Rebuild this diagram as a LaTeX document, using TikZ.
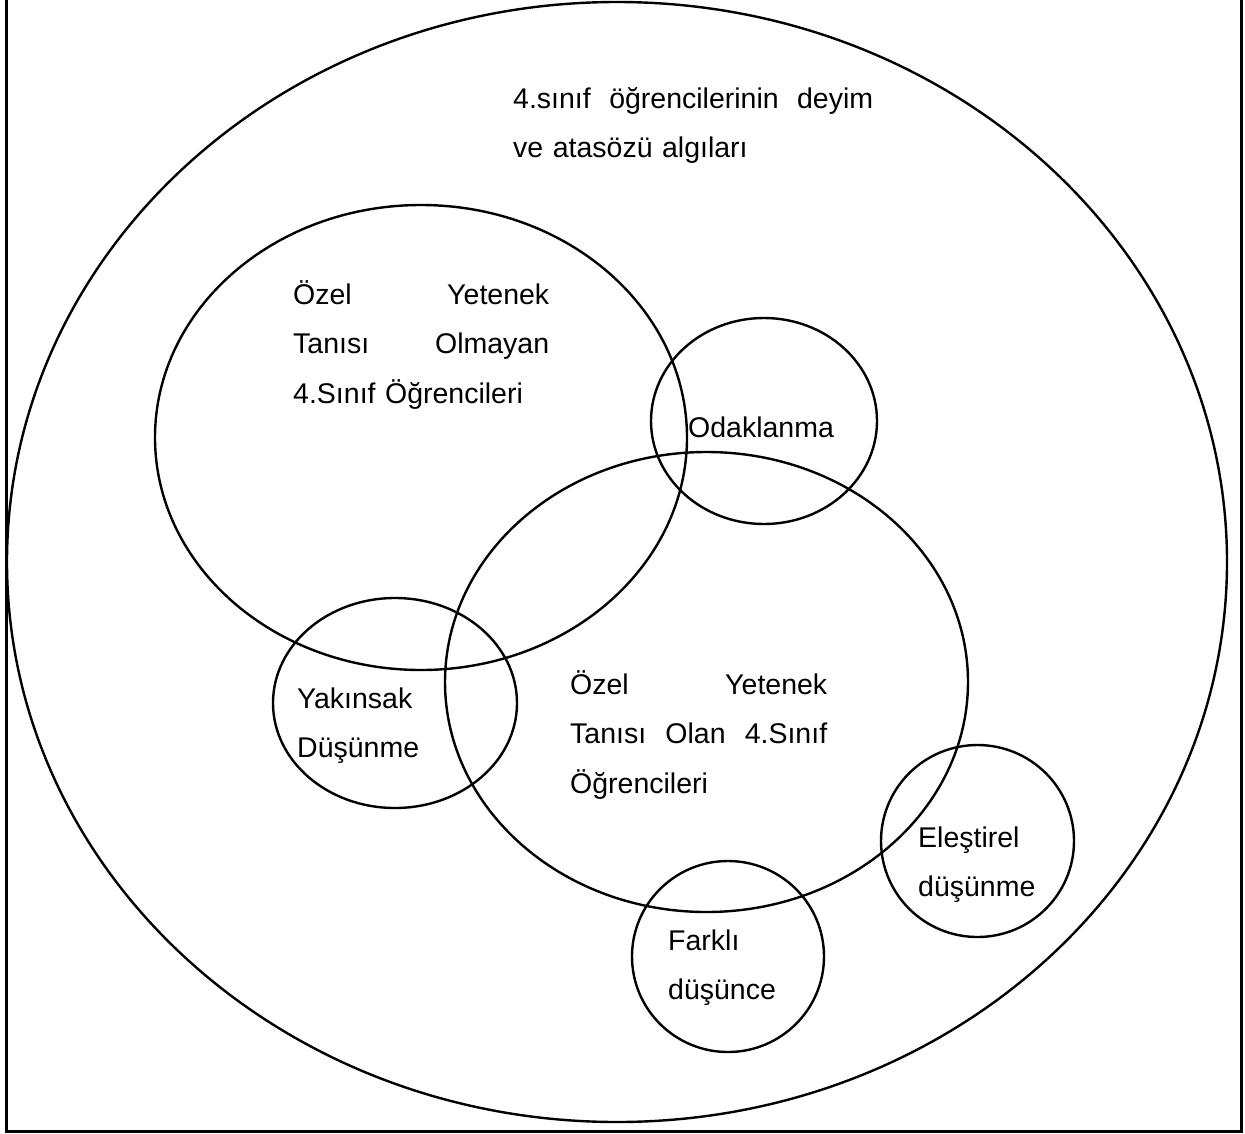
\documentclass[tikz,border=0pt]{standalone}
\usepackage{fontspec}
\setmainfont{Liberation Sans}
\usetikzlibrary{shapes.geometric}
\tikzset{
  ring/.style={draw, ellipse, line width=2.4pt, inner sep=0pt},
  label/.style={anchor=base west, inner sep=0pt, align=left,
    font=\fontsize{28.5}{49.5}\selectfont},
}
\begin{document}
\begin{tikzpicture}[x=1pt,y=-1pt]
\useasboundingbox (0,0) rectangle (1245,1133);
% frame (top edge outside the picture)
\draw[line width=3pt] (6,-10) -- (6,1131) -- (1241,1131) -- (1241,-10);
% shapes
\node[ring, minimum width=1220pt, minimum height=1120pt] (outer) at (617,562) {};
\node[ring, minimum width=532pt, minimum height=465pt] (nongifted) at (421,437.5) {};
\node[ring, minimum width=523pt, minimum height=460pt] (gifted) at (706.5,682) {};
\node[ring, minimum width=226pt, minimum height=206pt] (focus) at (764,421) {};
\node[ring, minimum width=244pt, minimum height=210pt] (convergent) at (395,703) {};
\node[ring, minimum width=193pt, minimum height=192pt] (critical) at (977.5,841) {};
\node[ring, minimum width=192pt, minimum height=191pt] (different) at (728,956.5) {};
% texts
\node[label, text width=360pt] (toptext) at (513,108)
  {4.sınıf\hfill öğrencilerinin\hfill deyim\\ve atasözü algıları};
\node[label, text width=256pt] (nongiftedtext) at (293,304)
  {Özel\hfill Yetenek\\Tanısı\hfill Olmayan\\4.Sınıf Öğrencileri};
\node[label, text width=150pt] (focustext) at (688,437) {Odaklanma};
\node[label, text width=257pt] (giftedtext) at (570,694)
  {Özel\hfill Yetenek\\Tanısı\hfill Olan\hfill 4.Sınıf\\Öğrencileri};
\node[label, text width=130pt] (convergenttext) at (297,708) {Yakınsak\\Düşünme};
\node[label, text width=125pt] (criticaltext) at (918,847) {Eleştirel\\düşünme};
\node[label, text width=115pt] (differenttext) at (668,950) {Farklı\\düşünce};
\end{tikzpicture}
\end{document}
